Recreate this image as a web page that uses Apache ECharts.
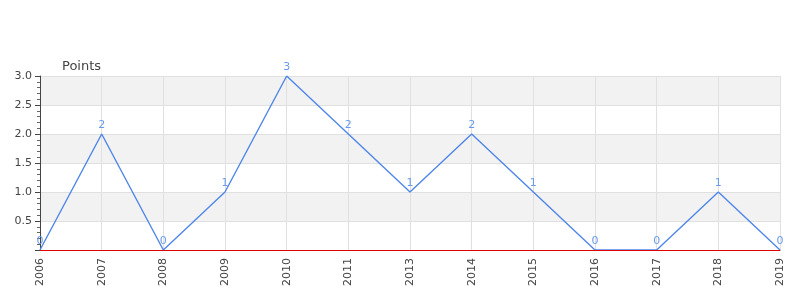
<!DOCTYPE html>
<html><head><meta charset="utf-8">
<script src="https://cdn.jsdelivr.net/npm/echarts@6/dist/echarts.min.js"></script>
<style>html,body{margin:0;padding:0;background:#fff}#c{width:800px;height:300px}</style>
</head><body><div id="c"></div>
<script>
const years = ['2006','2007','2008','2009','2010','2011','2013','2014','2015','2016','2017','2018','2019'];
const points = [0,2,0,1,3,2,1,2,1,0,0,1,0];
const yAxisName = 'Points';

const chart = echarts.init(document.getElementById('c'), null, {renderer:'canvas'});
chart.setOption({
  animation: false,
  grid: {left: 40, right: 20, top: 76, bottom: 50, containLabel: false},
  xAxis: {
    type: 'category', data: years, boundaryGap: false,
    axisLine: {show: true, lineStyle: {color: '#444', width: 1}},
    axisTick: {show: false},
    axisLabel: {rotate: 90, color: '#444', fontSize: 11, fontFamily: 'DejaVu Sans', margin: 8},
    splitLine: {show: true, lineStyle: {color: '#e0e0e0'}}
  },
  yAxis: {
    type: 'value', min: 0, max: 3, interval: 0.5,
    name: yAxisName, nameLocation: 'end', nameGap: 3,
    nameTextStyle: {color: '#444', fontSize: 13, fontFamily: 'DejaVu Sans', align: 'left', padding: [0,0,0,22]},
    axisLine: {show: true, lineStyle: {color: '#444'}},
    axisTick: {show: true, length: 5, lineStyle: {color: '#444'}},
    minorTick: {show: true, splitNumber: 5, length: 3, lineStyle: {color: '#666'}},
    axisLabel: {color: '#444', fontSize: 11, fontFamily: 'DejaVu Sans', margin: 8, showMinLabel: false,
      formatter: v => v === 0 ? '' : v.toFixed(1)},
    splitLine: {show: true, lineStyle: {color: '#e0e0e0'}},
    splitArea: {show: true, areaStyle: {color: ['#ffffff', '#f2f2f2']}}
  },
  series: [{
    type: 'line', data: points, showSymbol: true, symbol: 'circle', symbolSize: 1,
    itemStyle: {color: 'rgba(0,0,0,0)'},
    lineStyle: {color: '#4f86ea', width: 1.4},
    label: {show: true, position: 'top', color: '#6a9be8', fontSize: 11, fontFamily: 'DejaVu Sans', distance: 3},
    markLine: {silent: true, symbol: 'none', label: {show: false},
      lineStyle: {color: '#e00000', type: 'solid', width: 1},
      data: [{yAxis: 0}]}
  }]
});
</script></body></html>
